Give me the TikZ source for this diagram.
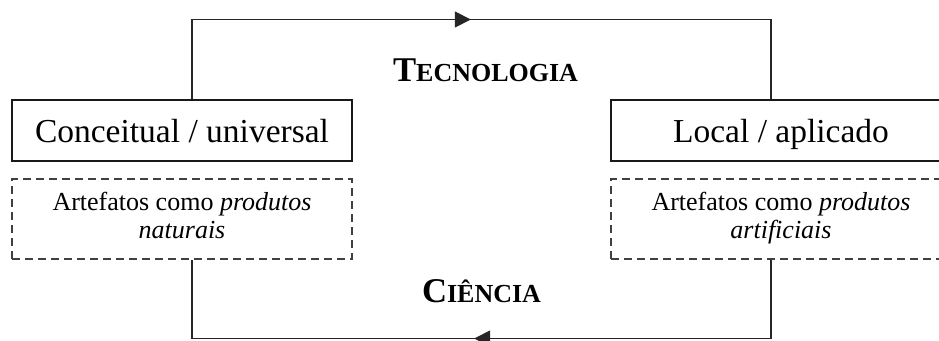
\documentclass[tikz,border=0pt]{standalone}
\usepackage{fontspec}
\setmainfont{Liberation Serif}
\usetikzlibrary{arrows.meta,decorations.markings}
\newcommand{\fakesc}[2]{{\fontsize{34.7}{40}\selectfont #1}{\fontsize{26}{30}\selectfont #2}}

\begin{document}
\begin{tikzpicture}
	[x=1pt,y=-1pt,
	box/.style={shape=rectangle,draw=black!90,line width=1.6pt,minimum width=340pt,
		minimum height=61pt,inner sep=0pt,text height=30pt,text depth=7pt,
		font=\fontsize{33.5}{40}\selectfont},
	dbox/.style={shape=rectangle,draw=black!75,line width=1.6pt,dash pattern=on 8pt off 5pt,
		minimum width=340pt,minimum height=80pt,inner sep=0pt,align=center,
		font=\fontsize{26}{28.5}\selectfont},
	title/.style={anchor=base,font=\bfseries,inner sep=0pt},
	flow/.style={draw=black!85,line width=1.6pt}]
	\clip (0,0) rectangle (939,340);
	
	\node (cu) [box] at (182,130.5) {Conceitual / universal};
	\node (la) [box] at (781,130.5) {Local / aplicado};
	
	\node (pn) [dbox] at (182,219) {Artefatos como \textit{produtos}\strut\\ \textit{naturais}\strut};
	\node (pa) [dbox] at (781,219) {Artefatos como \textit{produtos}\strut\\ \textit{artificiais}\strut};
	
	\node (tec) [title] at (485.5,81) {\fakesc{T}{ECNOLOGIA}};
	\node (cie) [title] at (481.5,302) {\fakesc{C}{IÊNCIA}};
	
	\coordinate (top) at (0,19.5);
	\coordinate (bot) at (0,338.5);
	
	\draw [flow,postaction={decorate,decoration={markings,
		mark=at position 358.5pt with {\arrow{Triangle[length=16pt,width=16pt]}}}}]
		([xshift=10pt]cu.north) -- ([xshift=10pt]cu.north |- top)
		-- ([xshift=-10pt]la.north |- top) -- ([xshift=-10pt]la.north);
	\draw [flow,postaction={decorate,decoration={markings,
		mark=at position 375.5pt with {\arrow{Triangle[length=16pt,width=16pt]}}}}]
		([xshift=-10pt]pa.south) -- ([xshift=-10pt]pa.south |- bot)
		-- ([xshift=10pt]pn.south |- bot) -- ([xshift=10pt]pn.south);
\end{tikzpicture}
\end{document}
